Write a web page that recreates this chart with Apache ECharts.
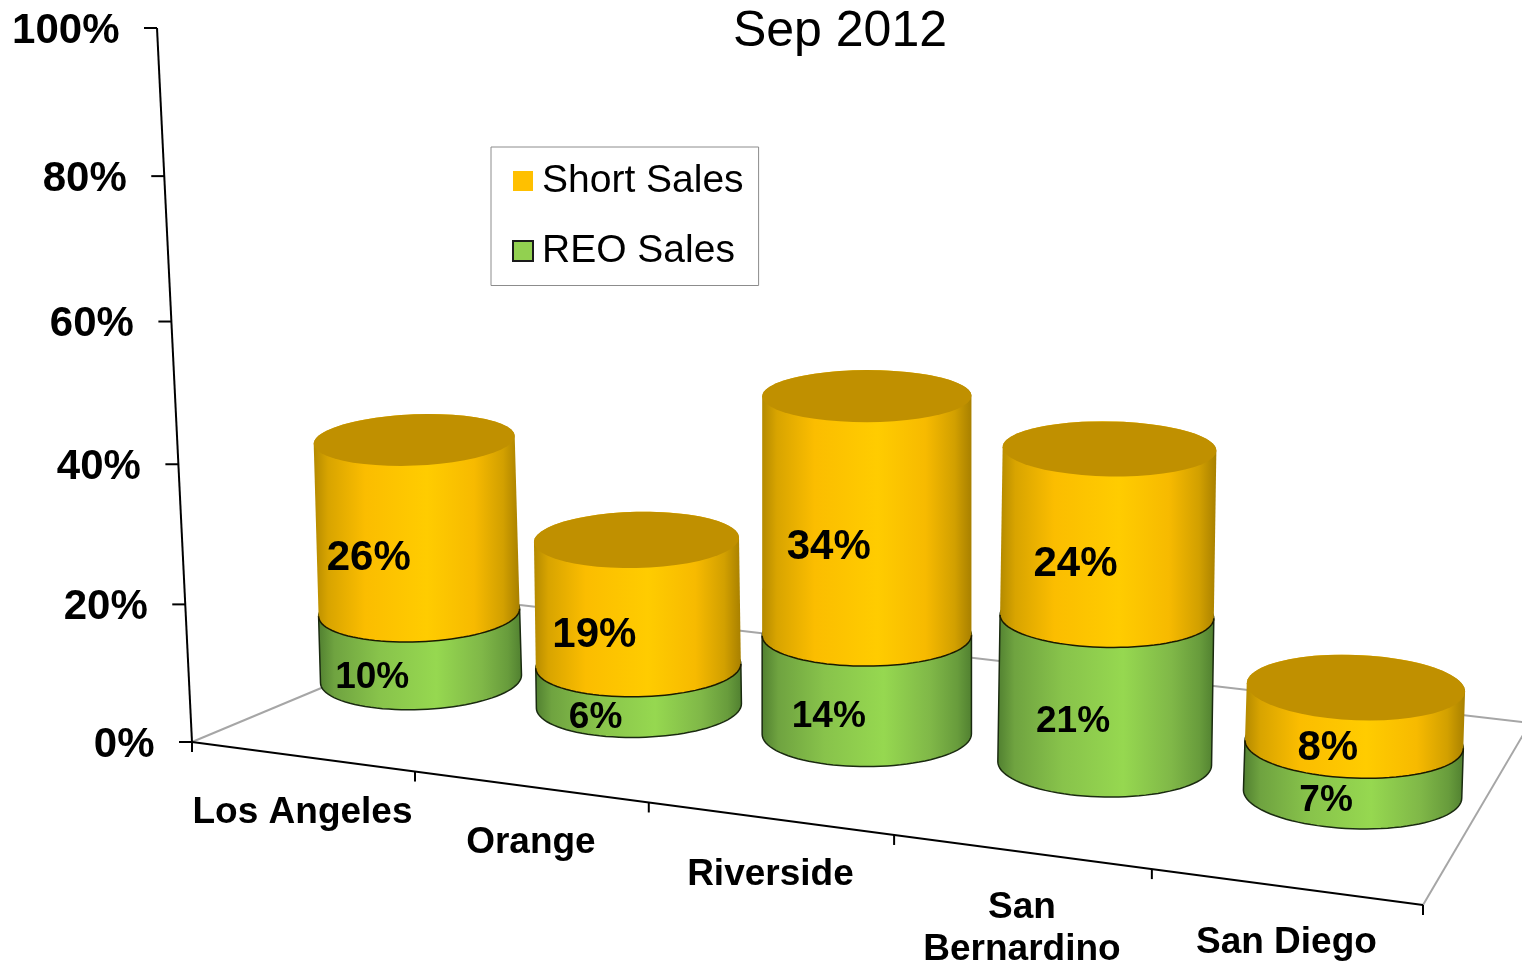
<!DOCTYPE html>
<html>
<head>
<meta charset="utf-8">
<title>Sep 2012</title>
<script src="https://cdn.jsdelivr.net/npm/echarts@6/dist/echarts.min.js"></script>
<style>
  html, body { margin: 0; padding: 0; background: #fff; }
  #main { width: 1522px; height: 965px; }
</style>
</head>
<body>
<div id="main"></div>
<script>
const categories = ['Los Angeles', 'Orange', 'Riverside', 'San\nBernardino', 'San Diego']
const reoSales = [10, 6, 14, 21, 7]
const shortSales = [26, 19, 34, 24, 8]
const valueTicks = [0, 20, 40, 60, 80, 100]
const valueTickLabels = ['0%', '20%', '40%', '60%', '80%', '100%']

const FONT = '"Liberation Sans", Arial, sans-serif'
const GRID = { left: 304.55, top: 28, width: 1164.5, height: 714 }

// floor corners on screen
const FLOOR = { frontLeft: [192, 742], frontRight: [1423, 905], backLeft: [520, 605], backRight: [1530, 723] }

// s runs 0..1 along the front edge, steps widen towards the viewer
function frontPoint(s) {
  const k = s * 0.885 / (1 - 0.115 * s)
  return [
    FLOOR.frontLeft[0] + (FLOOR.frontRight[0] - FLOOR.frontLeft[0]) * k,
    FLOOR.frontLeft[1] + (FLOOR.frontRight[1] - FLOOR.frontLeft[1]) * k
  ]
}

// pixels per percent at the depth of each column
const riseByColumn = [6.64, 6.64, 7.04, 6.99, 7.1]

// raw axis pixel -> skewed 3d-looking pixel, plus the ellipse size at that height
function columnPoint(api, i, v) {
  const c = api.coord([i, v])
  const t = (c[0] - 421) / 232.9
  const x0 = c[0] - 5 * t * (4 - t)
  const lift = (GRID.top + GRID.height - c[1]) / 7.14 * riseByColumn[i]
  return {
    x: x0 + lift * (x0 - 866) * 6.4e-5,
    y: 679 + (x0 - 421) * 0.1235 - lift,
    rx: 100.5 + (x0 - 421) * 0.0093,
    ry: 32.5 + (x0 - 866) * 0.0045 - 0.135 * v,
    tilt: (x0 - 900) * 8e-5
  }
}

function arc(p, from, to) {
  const pts = []
  const n = 48
  for (let k = 0; k <= n; k++) {
    const a = from + (to - from) * k / n
    pts.push([
      p.x + p.rx * Math.cos(a),
      p.y + p.ry * Math.sin(a) + p.tilt * p.rx * Math.cos(a)
    ])
  }
  return pts
}

function sideGradient(stops) {
  return new echarts.graphic.LinearGradient(0, 0, 1, 0, stops.map(s => ({ offset: s[0], color: s[1] })))
}

const yellowStops = [[0, '#B48A00'], [0.07, '#D8A400'], [0.25, '#FBBD00'], [0.55, '#FFCC00'], [0.78, '#F7BA00'], [0.92, '#D2A000'], [1, '#A88000']]
const greenStops = [[0, '#507F30'], [0.08, '#6FA340'], [0.3, '#88C34B'], [0.58, '#96D850'], [0.8, '#80B848'], [0.93, '#689C3C'], [1, '#507F30']]

function dataLabel(mid, text, size) {
  return {
    type: 'text',
    style: {
      text: text,
      x: mid.x - 48 + (mid.x - 413) * 0.022,
      y: mid.y + 32,
      align: 'center',
      verticalAlign: 'middle',
      fill: '#000',
      font: 'bold ' + size + 'px ' + FONT
    }
  }
}

function renderReo(params, api) {
  const i = api.value(0), from = api.value(1), to = api.value(2)
  const bottom = columnPoint(api, i, from), top = columnPoint(api, i, to)
  const mid = columnPoint(api, i, (from + to) / 2)
  return {
    type: 'group',
    children: [
      {
        type: 'polygon',
        shape: { points: arc(bottom, Math.PI, 0).concat(arc(top, 0, -Math.PI)) },
        style: { fill: sideGradient(greenStops), stroke: '#1a2a10', lineWidth: 1.5 }
      },
      dataLabel(mid, to - from + '%', 37)
    ]
  }
}

function renderShort(params, api) {
  const i = api.value(0), from = api.value(1), to = api.value(2)
  const bottom = columnPoint(api, i, from), top = columnPoint(api, i, to)
  const mid = columnPoint(api, i, (from + to) / 2)
  return {
    type: 'group',
    children: [
      {
        type: 'polygon',
        shape: { points: arc(bottom, Math.PI, 0).concat(arc(top, 0, -Math.PI)) },
        style: { fill: sideGradient(yellowStops) }
      },
      {
        type: 'polyline',
        shape: { points: arc(bottom, Math.PI, 0) },
        style: { fill: 'none', stroke: '#1a1a00', lineWidth: 1.5 }
      },
      {
        type: 'polygon',
        shape: { points: arc(top, 0, Math.PI * 2) },
        style: { fill: '#C09000' }
      },
      dataLabel(mid, to - from + '%', 42)
    ]
  }
}

// value axis leans left and its steps grow slightly towards the top
function axisPoint(api, v) {
  const c = api.coord([0, v])
  const f = (GRID.top + GRID.height - c[1]) / GRID.height
  const g = f * 0.955 / (1 - 0.045 * f)
  return [192 - 35 * g, GRID.top + GRID.height - GRID.height * g]
}

function line(a, b, color, width) {
  return {
    type: 'line',
    shape: { x1: a[0], y1: a[1], x2: b[0], y2: b[1] },
    style: { stroke: color, lineWidth: width }
  }
}

function renderFrame(params, api) {
  const children = [
    line(FLOOR.frontLeft, FLOOR.backLeft, '#A6A6A6', 2),
    line(FLOOR.backLeft, FLOOR.backRight, '#A6A6A6', 2),
    line(FLOOR.frontRight, FLOOR.backRight, '#A6A6A6', 2),
    line(FLOOR.frontLeft, FLOOR.frontRight, '#000', 2),
    line(axisPoint(api, valueTicks[0]), axisPoint(api, valueTicks[valueTicks.length - 1]), '#000', 2)
  ]
  valueTicks.forEach((v, k) => {
    const p = axisPoint(api, v)
    children.push(line([p[0] - 13, p[1]], p, '#000', 2))
    children.push({
      type: 'text',
      style: {
        text: valueTickLabels[k],
        x: p[0] - 37.5,
        y: p[1] + 3,
        align: 'right',
        verticalAlign: 'middle',
        fill: '#000',
        font: 'bold 42px ' + FONT
      }
    })
  })
  const n = categories.length
  for (let k = 0; k <= n; k++) {
    const p = frontPoint(k / n)
    children.push(line(p, [p[0], p[1] + 10], '#000', 2))
  }
  categories.forEach((name, k) => {
    const a = frontPoint(k / n), b = frontPoint((k + 1) / n)
    children.push({
      type: 'text',
      style: {
        text: name,
        x: (a[0] + b[0]) / 2 - 1,
        y: (a[1] + b[1]) / 2 + 35,
        align: 'center',
        verticalAlign: 'top',
        lineHeight: 42,
        fill: '#000',
        font: 'bold 37px ' + FONT
      }
    })
  })
  return { type: 'group', children: children }
}

const chart = echarts.init(document.getElementById('main'))
chart.setOption({
  animation: false,
  backgroundColor: '#fff',
  title: {
    text: 'Sep 2012',
    left: 840,
    top: 7,
    padding: 0,
    textAlign: 'center',
    textStyle: { color: '#000', fontSize: 50, fontWeight: 'normal', fontFamily: FONT }
  },
  legend: {
    left: 491,
    top: 147,
    orient: 'vertical',
    align: 'left',
    padding: [11.5, 15, 12, 21],
    itemGap: 25,
    itemWidth: 20,
    itemHeight: 20,
    borderColor: '#8C8C8C',
    borderWidth: 1,
    selectedMode: false,
    textStyle: { color: '#000', fontSize: 39, lineHeight: 39, fontFamily: FONT, padding: [6, 0, 0, 4] },
    data: [
      { name: 'Short Sales', icon: 'rect', itemStyle: { color: '#FFC000', borderWidth: 0 } },
      { name: 'REO Sales', icon: 'rect', itemStyle: { color: '#92D050', borderColor: '#1a1a1a', borderWidth: 2 } }
    ]
  },
  grid: Object.assign({ containLabel: false }, GRID),
  xAxis: { type: 'category', data: categories, show: false },
  yAxis: { type: 'value', min: 0, max: 100, interval: 20, show: false },
  series: [
    {
      name: 'frame',
      type: 'custom',
      silent: true,
      renderItem: renderFrame,
      data: [[0]]
    },
    {
      name: 'REO Sales',
      type: 'custom',
      silent: true,
      itemStyle: { color: '#92D050' },
      renderItem: renderReo,
      encode: { x: 0, y: 2 },
      data: reoSales.map((v, i) => [i, 0, v])
    },
    {
      name: 'Short Sales',
      type: 'custom',
      silent: true,
      itemStyle: { color: '#FFC000' },
      renderItem: renderShort,
      encode: { x: 0, y: 2 },
      data: shortSales.map((v, i) => [i, reoSales[i], reoSales[i] + v])
    }
  ]
})
</script>
</body>
</html>
